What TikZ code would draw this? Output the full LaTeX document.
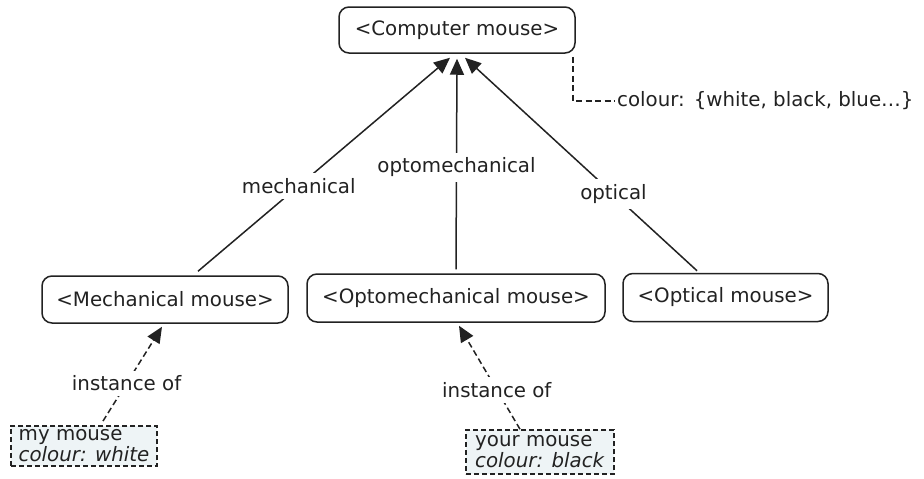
\documentclass[tikz,border=0pt]{standalone}
\usepackage{fontspec}
\setmainfont{DejaVu Sans}
\usetikzlibrary{arrows.meta}
\definecolor{ink}{HTML}{222222}
\definecolor{instfill}{HTML}{EEF4F6}
\tikzset{
  concept/.style={draw=ink, line width=1.5pt, rounded corners=10pt, text=ink,
    font=\fontsize{19.8}{23}\selectfont, inner sep=0pt, minimum height=47pt},
  instbox/.style={draw=ink, line width=1.5pt, fill=instfill, text=ink, dashed,
    dash pattern=on 5pt off 3pt, align=left, inner sep=4pt,
    font=\fontsize{19.8}{21}\selectfont},
  linklabel/.style={fill=white, text=ink, inner sep=5pt,
    font=\fontsize{19.8}{23}\selectfont},
  link/.style={draw=ink, line width=1.5pt, -{Triangle[length=16pt,width=14pt]}},
  instlink/.style={link, dash pattern=on 6pt off 3.5pt},
  notelink/.style={draw=ink, line width=1.5pt, dash pattern=on 6pt off 3.5pt}
}
\begin{document}
\begin{tikzpicture}[x=1pt,y=-1pt]
\useasboundingbox (0,0) rectangle (924,479);
\fill[white] (0,0) rectangle (924,479);

\node[concept, minimum width=236pt, minimum height=46pt] (cm) at (457,30) {<Computer mouse>};
\node[concept, minimum width=246pt] (mech) at (165,299.5) {<Mechanical mouse>};
\node[concept, minimum width=298pt, minimum height=48pt] (opto) at (456,298) {<Optomechanical mouse>};
\node[concept, minimum width=205pt, minimum height=48pt] (optical) at (725.5,297.5) {<Optical mouse>};

\node[text=ink, anchor=west, font=\fontsize{19.8}{23}\selectfont, inner sep=2pt] (colour) at (615,101) {colour:\hspace{9pt}\{white, black, blue…\}};

\node[instbox, minimum width=146pt, minimum height=40pt] (my) at (84,446)
  {my mouse\\\textit{colour: white}};
\node[instbox, minimum width=148pt, minimum height=44pt] (your) at (540,452)
  {your mouse\\\textit{colour: black}};

% generalisation links
\draw[link] ([xshift=33pt,yshift=4pt]mech.north) -- node[linklabel, pos=0.4] {mechanical} ([xshift=-7pt,yshift=-4pt]cm.south);
\draw[link] ([yshift=4pt]opto.north) -- node[linklabel, pos=0.485] {optomechanical} ([yshift=-5pt]cm.south);
\draw[link] ([xshift=-28.5pt,yshift=2pt]optical.north) -- node[linklabel, pos=0.36] {optical} ([xshift=8pt,yshift=-4pt]cm.south);

% note link
\draw[notelink] ([xshift=-3pt,yshift=-3pt]cm.south east) |- (colour.west);

% instance links
\draw[instlink] ([xshift=19pt,yshift=4pt]my.north) -- node[linklabel, pos=0.4] {instance of} ([xshift=-3pt,yshift=-3pt]mech.south);
\draw[instlink] ([xshift=-20pt,yshift=0pt]your.north) -- node[linklabel, pos=0.38] {instance of} ([xshift=3pt,yshift=-3pt]opto.south);
\end{tikzpicture}
\end{document}
